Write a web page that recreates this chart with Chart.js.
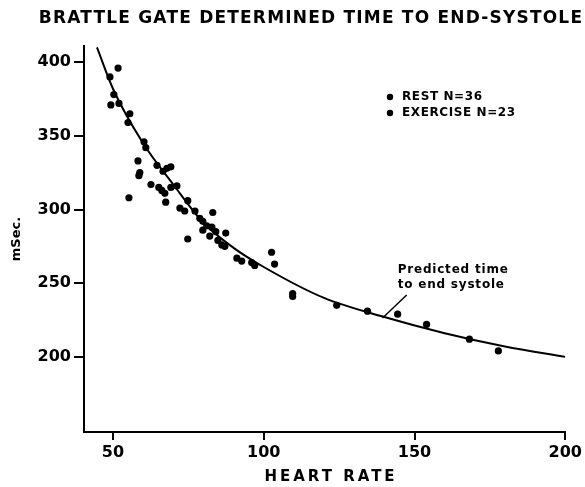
<!DOCTYPE html>
<html>
<head>
<meta charset="utf-8">
<script src="https://cdn.jsdelivr.net/npm/chart.js@4.4.1/dist/chart.umd.min.js"></script>
<style>
  body { margin: 0; background: #fff; }
  canvas { display: block; }
</style>
</head>
<body>
<canvas id="chart" width="585" height="487"></canvas>
<script>
// readings
const restHR = [49.0, 49.3, 50.3, 51.7, 52.0, 55.0, 55.3, 55.6, 58.3, 58.6, 58.9, 60.3, 60.9, 62.6,
  64.6, 65.2, 66.2, 66.6, 67.2, 67.5, 67.9, 69.2, 69.2, 71.2, 72.2, 73.8, 74.8, 74.8, 77.2,
  78.8, 79.8, 79.8, 81.1, 82.1, 82.8, 83.1];
const restMs = [390, 371, 378, 396, 372, 359, 308, 365, 333, 323, 325, 346, 342, 317,
  330, 315, 313, 326, 311, 305, 328, 329, 315, 316, 301, 299, 306, 280, 299,
  294, 292, 286, 289, 282, 288, 298];
const exHR = [84.1, 84.8, 86.1, 87.1, 87.4, 91.1, 92.7, 96.0, 97.0, 102.6, 103.6, 109.6, 109.6,
  124.2, 134.4, 144.4, 154.0, 168.2, 177.8];
const exMs = [285, 279, 276, 275, 284, 267, 265, 264, 262, 271, 263, 243, 241,
  235, 231, 229, 222, 212, 204];

// predicted time to end systole
const predHR = [44.7, 50, 60, 70, 80, 90, 100, 120, 140, 160, 180, 200];
const predMs = [410, 382, 345, 317, 291, 274, 261, 240, 227, 216, 207, 200];

const xTicks = [50, 100, 150, 200];
const yTicks = [200, 250, 300, 350, 400];

const titleText = 'BRATTLE GATE DETERMINED TIME TO END-SYSTOLE';
const xTitle = 'HEART RATE';
const legendLabels = ['REST N=36', 'EXERCISE N=23'];
const noteLines = ['Predicted time', 'to end systole'];
const noteLeader = [[147.4, 242], [139.4, 226.4]];
const noteAnchor = [144.4, 259];

const FONT = '"DejaVu Sans", sans-serif';

const toPts = (xs, ys) => xs.map((x, i) => ({ x: x, y: ys[i] }));

const extras = {
  id: 'extras',
  afterDraw(chart) {
    const c = chart.ctx;
    const xs = chart.scales.x, ys = chart.scales.y;
    c.save();
    c.fillStyle = '#000';
    c.strokeStyle = '#000';
    c.textBaseline = 'middle';

    // title
    c.font = 'bold 17px ' + FONT;
    c.letterSpacing = '1.2px';
    c.textAlign = 'center';
    c.fillText(titleText, 311, 19);

    // x axis title
    c.font = 'bold 15px ' + FONT;
    c.letterSpacing = '3px';
    c.fillText(xTitle, 331, 477);

    // legend
    c.font = 'bold 12px ' + FONT;
    c.letterSpacing = '0.6px';
    c.textAlign = 'left';
    legendLabels.forEach((t, i) => {
      const y = 97 + i * 16;
      c.beginPath();
      c.arc(390, y, 3.2, 0, Math.PI * 2);
      c.fill();
      c.fillText(t, 402, y);
    });

    // note with leader line
    c.font = 'bold 12px ' + FONT;
    c.letterSpacing = '0.8px';
    const nx = xs.getPixelForValue(noteAnchor[0]);
    const ny = ys.getPixelForValue(noteAnchor[1]);
    noteLines.forEach((t, i) => c.fillText(t, nx, ny + i * 15));
    c.lineWidth = 1.5;
    c.beginPath();
    c.moveTo(xs.getPixelForValue(noteLeader[0][0]), ys.getPixelForValue(noteLeader[0][1]));
    c.lineTo(xs.getPixelForValue(noteLeader[1][0]), ys.getPixelForValue(noteLeader[1][1]));
    c.stroke();
    c.restore();
  }
};

const dotStyle = {
  showLine: false,
  pointRadius: 3.6,
  pointBackgroundColor: '#000',
  pointBorderWidth: 0,
  borderColor: '#000'
};

new Chart(document.getElementById('chart').getContext('2d'), {
  type: 'scatter',
  data: {
    datasets: [
      Object.assign({ label: legendLabels[0], data: toPts(restHR, restMs) }, dotStyle),
      Object.assign({ label: legendLabels[1], data: toPts(exHR, exMs) }, dotStyle),
      {
        type: 'line',
        label: 'Predicted',
        data: toPts(predHR, predMs),
        showLine: true,
        borderColor: '#000',
        borderWidth: 2,
        pointRadius: 0,
        cubicInterpolationMode: 'monotone',
        fill: false
      }
    ]
  },
  options: {
    responsive: false,
    animation: false,
    layout: { padding: { top: 46, right: 19, left: 0, bottom: 0 } },
    plugins: { legend: { display: false }, tooltip: { enabled: false } },
    scales: {
      x: {
        type: 'linear',
        min: 40.4,
        max: 200,
        afterBuildTicks: s => { s.ticks = xTicks.map(v => ({ value: v })); },
        afterFit: s => { s.height = 55; },
        border: { color: '#000', width: 2 },
        grid: { drawOnChartArea: false, color: '#000', lineWidth: 2, tickLength: 8 },
        ticks: { color: '#000', padding: 3, font: { family: FONT, size: 16, weight: 'bold' } }
      },
      y: {
        type: 'linear',
        min: 149,
        max: 411,
        afterBuildTicks: s => { s.ticks = yTicks.map(v => ({ value: v })); },
        afterFit: s => { s.width = 84; },
        border: { color: '#000', width: 2 },
        grid: { drawOnChartArea: false, color: '#000', lineWidth: 2, tickLength: 10 },
        ticks: { color: '#000', padding: 3, font: { family: FONT, size: 16, weight: 'bold' } },
        title: {
          display: true, text: 'mSec.', color: '#000',
          padding: { top: 9, bottom: 0 },
          font: { family: FONT, size: 13, weight: 'bold' }
        }
      }
    }
  },
  plugins: [extras]
});
</script>
</body>
</html>
